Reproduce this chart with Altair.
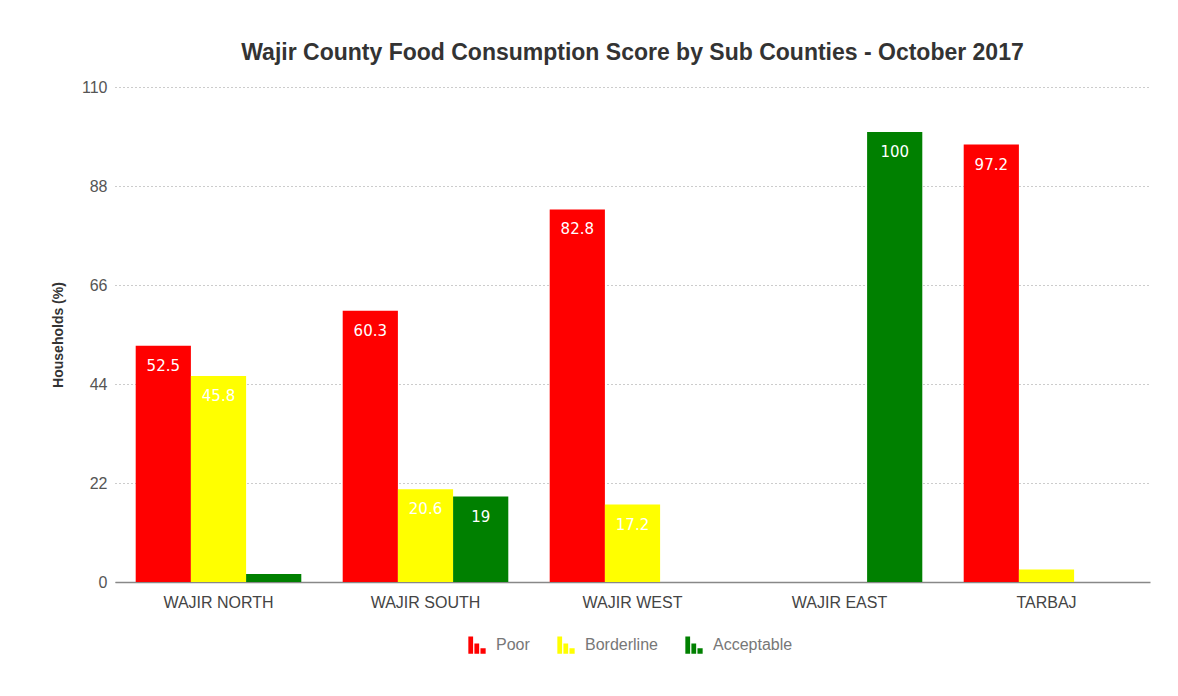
import altair as alt
import pandas as pd

counties = ["WAJIR NORTH", "WAJIR SOUTH", "WAJIR WEST", "WAJIR EAST", "TARBAJ"]
categories = ["Poor", "Borderline", "Acceptable"]
poor = [52.5, 60.3, 82.8, 0, 97.2]
borderline = [45.8, 20.6, 17.2, 0, 2.8]
acceptable = [1.8, 19, 0, 100, 0]
colors = ["#ff0000", "#ffff00", "#008000"]
y_ticks = [0, 22, 44, 66, 88, 110]

rows = []
for i, c in enumerate(counties):
    for cat, series in zip(categories, [poor, borderline, acceptable]):
        rows.append({"county": c, "category": cat, "value": series[i]})
df = pd.DataFrame(rows)

bar_icon = "M-1,-1H-0.45V1H-1Z M-0.3,-0.2H0.25V1H-0.3Z M0.4,0.35H1V1H0.4Z"

base = alt.Chart(df).encode(
    x=alt.X("county:N", sort=counties,
            scale=alt.Scale(paddingInner=0.2, paddingOuter=0.1),
            axis=alt.Axis(title=None, labelAngle=0, labelFontSize=16,
                          labelColor="#444", labelFont="Liberation Sans",
                          labelPadding=12, tickSize=0, domainColor="#888",
                          domainWidth=1.5)),
    xOffset=alt.XOffset("category:N", sort=categories,
                        scale=alt.Scale(paddingInner=0, paddingOuter=0)),
    y=alt.Y("value:Q", scale=alt.Scale(domain=[0, 110], nice=False),
            axis=alt.Axis(title="Households (%)", values=y_ticks,
                          titleFontSize=14, titleFont="Liberation Sans",
                          titleFontWeight="bold", titleColor="#333",
                          titlePadding=16,
                          labelFontSize=16, labelColor="#555",
                          labelFont="Liberation Sans", labelPadding=8,
                          tickSize=0, domain=False, grid=True,
                          gridDash=[1, 3], gridColor="#999", gridWidth=1)),
)

bars = base.mark_bar().encode(
    color=alt.Color("category:N", sort=categories,
                    scale=alt.Scale(domain=categories, range=colors),
                    legend=alt.Legend(title=None, orient="none",
                                      legendX=353, legendY=549,
                                      direction="horizontal",
                                      symbolType=bar_icon, symbolSize=300,
                                      symbolStrokeWidth=0,
                                      labelFontSize=16, labelColor="#777",
                                      labelFont="Liberation Sans",
                                      labelOffset=10,
                                      columnPadding=27))
)

labels = base.mark_text(baseline="top", dy=13, color="white", fontSize=15,
                        font="DejaVu Sans").encode(
    text=alt.Text("value:Q")
).transform_filter("datum.value > 5")

chart = (bars + labels).properties(
    width=1035, height=495,
    title=alt.Title("Wajir County Food Consumption Score by Sub Counties - October 2017",
                    fontSize=23, font="Liberation Sans", fontWeight="bold",
                    color="#333", offset=14),
    padding={"left": 107, "top": 79, "right": 20, "bottom": 100},
    autosize=alt.AutoSizeParams(type="none"),
).configure_view(stroke=None)

chart.save("out.html", embed_options={"renderer": "svg", "actions": False})
